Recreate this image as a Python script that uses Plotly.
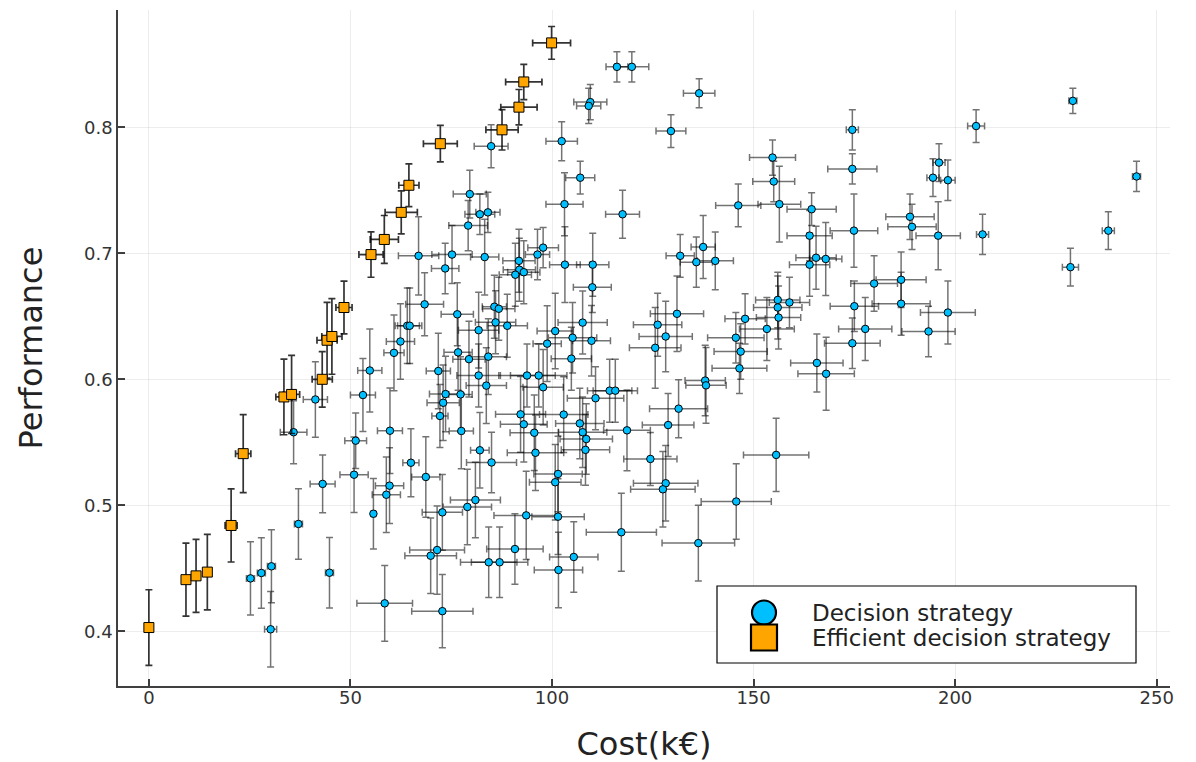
import plotly.graph_objects as go

# ---- Decision strategies (blue) ----
blue_x = [116.1,119.8,109.5,109.1,136.5,129.5,102.4,84.9,107.0,79.6,103.1,117.5,82.1,84.1,79.2,66.9,75.2,83.3,73.5,97.8,
          96.4,91.8,91.9,93.0,90.9,103.2,110.1,110.0,131.8,135.8,68.4,76.5,85.7,86.8,131.0,229.2,205.2,174.5,174.5,154.7,
          155.0,196.0,194.5,198.2,245.0,146.2,156.4,164.4,174.9,163.9,165.5,167.9,163.9,188.8,189.3,195.8,206.8,238.0,228.6,137.5,
          140.5,186.6,179.9,186.6,175.0,198.2,156.0,156.0,158.9,156.2,147.9,153.3,177.7,193.4,145.6,174.5,146.8,146.5,165.7,168.0,
          138.0,138.2,155.6,145.7,136.3,126.2,128.2,125.6,107.6,105.1,109.8,104.8,131.4,110.8,114.3,115.7,102.9,128.8,106.9,107.6,
          108.5,108.3,118.6,124.4,128.2,127.5,117.2,105.4,101.5,101.6,86.0,88.9,81.8,64.1,64.7,62.4,76.7,79.4,84.2,71.8,
          81.8,83.7,73.6,73.0,72.2,77.3,77.5,100.8,98.8,93.8,96.7,97.8,92.2,93.0,95.6,95.9,101.5,100.8,65.0,68.7,
          82.1,85.0,81.0,79.0,72.8,71.5,69.9,93.6,90.8,84.3,87.0,72.8,60.8,54.8,53.1,41.3,59.8,35.9,51.3,50.9,
          43.1,59.7,58.9,55.7,37.1,25.2,27.9,30.4,44.8,58.5,30.2]
blue_y = [0.848,0.848,0.820,0.817,0.827,0.797,0.789,0.785,0.760,0.747,0.739,0.731,0.731,0.7325,0.722,0.698,0.699,0.697,0.688,0.7045,
          0.699,0.694,0.687,0.685,0.683,0.691,0.691,0.673,0.698,0.693,0.6595,0.6516,0.6576,0.656,0.652,0.821,0.801,0.798,0.767,0.776,
          0.757,0.772,0.760,0.758,0.761,0.738,0.739,0.735,0.718,0.714,0.6965,0.6955,0.691,0.729,0.721,0.714,0.715,0.718,0.689,0.705,
          0.694,0.679,0.676,0.660,0.658,0.653,0.663,0.657,0.661,0.649,0.648,0.640,0.640,0.638,0.633,0.6286,0.622,0.6087,0.613,0.6044,
          0.599,0.5952,0.540,0.503,0.470,0.6433,0.634,0.625,0.645,0.633,0.6306,0.6164,0.5767,0.585,0.591,0.591,0.572,0.5637,0.565,0.558,
          0.5526,0.544,0.5595,0.5368,0.5175,0.5127,0.4786,0.459,0.491,0.4487,0.6452,0.6425,0.639,0.6425,0.6425,0.630,0.6214,0.616,0.618,0.6066,
          0.603,0.595,0.5883,0.5814,0.5709,0.588,0.559,0.6383,0.6283,0.603,0.603,0.5937,0.5722,0.5643,0.5576,0.5417,0.5249,0.5183,0.5338,0.5225,
          0.5437,0.534,0.5042,0.4987,0.4944,0.4645,0.460,0.492,0.4653,0.4548,0.4548,0.416,0.621,0.607,0.5875,0.584,0.5592,0.558,0.5513,0.5243,
          0.517,0.5156,0.5084,0.4933,0.4852,0.442,0.4463,0.4516,0.4465,0.4222,0.4016]
blue_xerr = [2.7,4.2,4.1,3.0,3.9,3.7,3.9,4.2,3.6,4.1,4.6,4.2,3.7,3.0,4.8,5.0,5.0,3.5,3.4,3.8,
             3.0,4.0,4.0,4.0,4.0,3.8,4.0,4.7,3.5,4.0,4.7,4.0,3.0,4.0,6.6,1.0,2.1,1.5,6.1,5.7,
             5.2,1.5,1.5,1.8,1.0,5.6,5.3,6.1,5.9,5.6,5.0,4.0,5.0,6.0,6.0,5.5,1.5,1.5,2.0,3.0,
             4.5,6.2,5.8,7.2,6.0,6.8,5.5,6.0,5.0,5.5,5.0,6.8,6.6,6.6,7.0,6.9,6.6,6.8,6.5,7.0,
             5.0,5.0,8.1,8.7,9.0,6.0,6.6,6.4,6.1,6.0,4.7,5.0,7.2,7.0,5.5,5.5,6.0,6.4,6.0,6.0,
             6.5,6.0,5.8,6.6,8.0,8.0,8.7,6.0,6.5,6.0,5.0,5.0,5.0,3.0,3.0,3.5,3.5,4.0,4.5,3.0,
             5.4,5.0,4.0,4.0,2.0,2.9,3.0,4.5,3.5,7.0,7.0,5.0,6.2,5.8,6.0,7.0,6.0,6.4,2.0,3.5,
             2.3,6.2,6.2,6.0,5.0,6.8,6.4,8.0,7.0,7.0,7.0,7.6,2.5,3.0,3.1,3.0,3.1,3.3,2.7,3.5,
             3.1,3.5,3.5,0.5,1.0,1.0,1.0,1.0,1.0,6.9,1.5]
blue_yerr = [0.012,0.012,0.014,0.014,0.0115,0.013,0.0155,0.017,0.013,0.019,0.025,0.019,0.016,0.016,0.020,0.031,0.023,0.030,0.020,0.016,
             0.020,0.025,0.025,0.025,0.025,0.030,0.025,0.020,0.017,0.020,0.025,0.025,0.025,0.025,0.030,0.010,0.013,0.016,0.012,0.014,
             0.016,0.015,0.015,0.016,0.012,0.017,0.030,0.013,0.029,0.020,0.025,0.029,0.025,0.018,0.018,0.027,0.016,0.015,0.015,0.025,
             0.023,0.022,0.022,0.025,0.020,0.025,0.022,0.025,0.020,0.025,0.020,0.025,0.025,0.020,0.020,0.020,0.022,0.020,0.023,0.029,
             0.028,0.030,0.029,0.030,0.030,0.025,0.028,0.032,0.025,0.028,0.028,0.025,0.023,0.025,0.025,0.025,0.030,0.025,0.028,0.028,
             0.028,0.028,0.032,0.021,0.030,0.030,0.031,0.028,0.030,0.030,0.025,0.025,0.030,0.030,0.030,0.030,0.030,0.030,0.030,0.030,
             0.025,0.030,0.030,0.030,0.025,0.030,0.030,0.030,0.030,0.025,0.025,0.030,0.030,0.030,0.030,0.030,0.030,0.030,0.027,0.032,
             0.030,0.024,0.030,0.030,0.030,0.035,0.030,0.035,0.028,0.028,0.028,0.029,0.030,0.033,0.029,0.030,0.034,0.025,0.022,0.030,
             0.023,0.030,0.030,0.028,0.028,0.029,0.028,0.029,0.028,0.030,0.030]

# ---- Efficient decision strategies (orange) ----
eff_x = [0.0,9.2,11.7,14.5,20.4,23.4,33.5,35.4,43.0,44.2,45.4,48.4,55.1,58.4,62.6,64.5,72.3,87.6,91.8,93.0,99.9]
eff_y = [0.403,0.441,0.444,0.447,0.484,0.541,0.586,0.588,0.600,0.631,0.634,0.657,0.699,0.711,0.7325,0.754,0.787,0.798,0.816,0.836,0.867]
eff_xerr = [0.0,0.3,0.3,0.3,1.5,1.9,2.0,2.0,2.5,2.5,2.5,2.0,3.0,3.5,4.0,2.5,4.2,4.0,4.5,4.5,4.7]
eff_yerr = [0.030,0.029,0.029,0.030,0.029,0.031,0.030,0.031,0.022,0.030,0.030,0.021,0.018,0.019,0.017,0.017,0.0145,0.016,0.014,0.014,0.013]

x_ticks = [0, 50, 100, 150, 200, 250]
y_ticks = [0.4, 0.5, 0.6, 0.7, 0.8]
series_names = ["Decision strategy", "Efficient decision strategy"]

BLUE = "#00BFFF"
ORANGE = "#FFA500"
FONT = "DejaVu Sans"

fig = go.Figure()
fig.add_trace(go.Scatter(
    x=blue_x, y=blue_y, mode="markers", name=series_names[0], showlegend=False,
    marker=dict(symbol="circle", size=7.5, color=BLUE, line=dict(color="black", width=1)),
    error_x=dict(type="data", array=blue_xerr, color="rgba(0,0,0,0.55)", thickness=1.5, width=3.5),
    error_y=dict(type="data", array=blue_yerr, color="rgba(0,0,0,0.55)", thickness=1.5, width=3.5),
))
fig.add_trace(go.Scatter(
    x=eff_x, y=eff_y, mode="markers", name=series_names[1], showlegend=False,
    marker=dict(symbol="square", size=10, color=ORANGE, line=dict(color="black", width=1)),
    error_x=dict(type="data", array=eff_xerr, color="rgba(0,0,0,0.8)", thickness=1.7, width=3.5),
    error_y=dict(type="data", array=eff_yerr, color="rgba(0,0,0,0.8)", thickness=1.7, width=3.5),
))

# ---- legend drawn in paper coordinates (plot area: 1052 x 676 px) ----
PW, PH = 1052.0, 676.0
def px(dx):  # pixels from plot-area left -> paper x
    return dx / PW
def py(dy):  # pixels from plot-area bottom -> paper y
    return dy / PH

box_l, box_r, box_b, box_t = 599, 1018, 23, 100   # px within plot area
sym_cx = 646
row_y = [73.5, 48.5]
shapes = [
    dict(type="rect", xref="paper", yref="paper", x0=px(box_l), x1=px(box_r), y0=py(box_b), y1=py(box_t),
         line=dict(color="black", width=1.2), fillcolor="white", layer="above"),
    dict(type="circle", xref="paper", yref="paper", x0=px(sym_cx - 12), x1=px(sym_cx + 12),
         y0=py(row_y[0] - 12), y1=py(row_y[0] + 12),
         line=dict(color="black", width=2.2), fillcolor=BLUE, layer="above"),
    dict(type="rect", xref="paper", yref="paper", x0=px(sym_cx - 13), x1=px(sym_cx + 13),
         y0=py(row_y[1] - 13), y1=py(row_y[1] + 13),
         line=dict(color="black", width=2.2), fillcolor=ORANGE, layer="above"),
]
annotations = [
    dict(xref="paper", yref="paper", x=px(692), y=py(row_y[i]), xanchor="left", yanchor="middle",
         text=series_names[i], showarrow=False, font=dict(family=FONT, size=23, color="#222222"))
    for i in range(2)
]

axis_common = dict(
    showgrid=True, gridcolor="rgba(0,0,0,0.07)", gridwidth=1,
    showline=True, linecolor="rgba(0,0,0,0.75)", linewidth=1.5,
    ticks="inside", ticklen=7, tickwidth=1.5, tickcolor="rgba(0,0,0,0.75)",
    zeroline=False, mirror=False,
    tickfont=dict(family=FONT, size=18, color="#333333"),
)
fig.update_layout(
    width=1196, height=762,
    paper_bgcolor="white", plot_bgcolor="white",
    margin=dict(l=110, r=34, t=2, b=84),
    font=dict(family=FONT, color="#222222"),
    showlegend=False,
    shapes=shapes, annotations=annotations,
    xaxis=dict(range=[-7.66, 253.3], tickvals=x_ticks, ticktext=[str(v) for v in x_ticks],
               ticklabelstandoff=-5,
               title=dict(text="Cost(k€)", font=dict(family=FONT, size=32, color="#222222"), standoff=25),
               **axis_common),
    yaxis=dict(range=[0.3566, 0.8931], tickvals=y_ticks, ticktext=[f"{v:.1f}" for v in y_ticks],
               title=dict(text="Performance", font=dict(family=FONT, size=32, color="#222222"), standoff=32),
               **axis_common),
)

fig.write_html("out.html")
